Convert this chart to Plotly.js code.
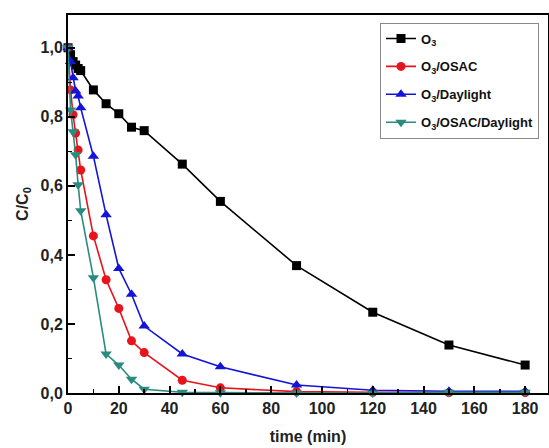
<!DOCTYPE html>
<html>
<head>
<meta charset="utf-8">
<script src="https://cdn.plot.ly/plotly-3.0.1.min.js"></script>
<style>html,body{margin:0;padding:0;background:#fff;}#chart{width:549px;height:448px;}</style>
</head>
<body>
<div id="chart"></div>
<script>
const time = [0, 1, 2, 3, 4, 5, 10, 15, 20, 25, 30, 45, 60, 90, 120, 150, 180];
const seriesNames = ["O<sub>3</sub>", "O<sub>3</sub>/OSAC", "O<sub>3</sub>/Daylight", "O<sub>3</sub>/OSAC/Daylight"];
const o3 = [1.0, 0.98, 0.96, 0.95, 0.94, 0.934, 0.878, 0.838, 0.809, 0.770, 0.760, 0.663, 0.555, 0.369, 0.234, 0.139, 0.081];
const o3Osac = [1.0, 0.878, 0.806, 0.753, 0.704, 0.646, 0.455, 0.328, 0.245, 0.151, 0.117, 0.037, 0.015, 0.004, 0.002, 0.001, 0.001];
const o3Daylight = [1.0, 0.96, 0.913, 0.875, 0.86, 0.826, 0.686, 0.516, 0.361, 0.286, 0.194, 0.113, 0.076, 0.023, 0.008, 0.005, 0.005];
const o3OsacDaylight = [1.0, 0.82, 0.757, 0.69, 0.603, 0.528, 0.334, 0.113, 0.081, 0.040, 0.011, 0.002, 0.001, 0.0, 0.0, 0.002, 0.002];
const xTicks = [0, 20, 40, 60, 80, 100, 120, 140, 160, 180];
const yTicks = [0, 0.2, 0.4, 0.6, 0.8, 1.0];

const colors = ['#000000', '#e8141c', '#1414d8', '#2a8c80'];
const symbols = ['square', 'circle', 'triangle-up', 'triangle-down'];
const sizes = [9, 9, 10, 10];
const ys = [o3, o3Osac, o3Daylight, o3OsacDaylight];

const traces = ys.map((y, i) => ({
  x: time, y: y, name: seriesNames[i], type: 'scatter', mode: 'lines+markers',
  legendgroup: 'g' + i,
  line: {color: colors[i], width: 1.6},
  marker: {color: colors[i], symbol: symbols[i], size: sizes[i]},
  cliponaxis: false
}));

const fam = 'Liberation Sans, Arial, sans-serif';
const tickFont = {family: fam, size: 16, weight: 'bold', color: '#222'};
const layout = {
  width: 549, height: 448,
  margin: {l: 68, r: 1, t: 15, b: 55, autoexpand: false},
  separators: ',.',
  paper_bgcolor: '#fff', plot_bgcolor: '#fff',
  showlegend: true,
  legend: {
    x: 0.65, y: 0.98, xanchor: 'left', yanchor: 'top',
    bgcolor: '#fff', bordercolor: '#888', borderwidth: 1,
    font: {family: fam, size: 13, weight: 'bold', color: '#111'},
    traceorder: 'grouped', tracegroupgap: 8
  },
  xaxis: {
    range: [0, 189], tickvals: xTicks, ticks: 'inside', ticklen: 7, tickwidth: 2, tickcolor: '#000',
    minor: {ticks: 'inside', dtick: 10, ticklen: 4, tickwidth: 1.5, tickcolor: '#000'},
    showline: true, linecolor: '#000', linewidth: 2, mirror: true,
    showgrid: false, zeroline: false, tickfont: tickFont,
    title: {text: 'time (min)', font: {family: fam, size: 16, weight: 'bold', color: '#222'}, standoff: 15}
  },
  yaxis: {
    range: [0, 1.095], tickvals: yTicks, tickformat: '.1f', ticks: 'inside', ticklen: 7, tickwidth: 2, tickcolor: '#000',
    minor: {ticks: 'inside', dtick: 0.1, ticklen: 4, tickwidth: 1.5, tickcolor: '#000'},
    showline: true, linecolor: '#000', linewidth: 2, mirror: true,
    showgrid: false, zeroline: false, tickfont: tickFont,
    title: {text: 'C/C<sub>0</sub>', font: {family: fam, size: 16, weight: 'bold', color: '#222'}, standoff: 8}
  }
};
Plotly.newPlot('chart', traces, layout, {displayModeBar: false, staticPlot: true});
</script>
</body>
</html>
